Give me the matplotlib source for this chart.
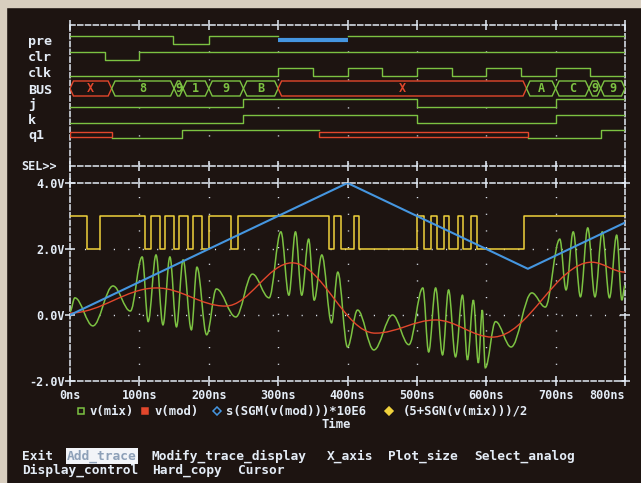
import matplotlib
matplotlib.use('Agg')
import matplotlib.pyplot as plt
from matplotlib.path import Path
from matplotlib.patches import PathPatch, Polygon, Rectangle
from matplotlib.lines import Line2D

plt.rcParams['lines.scale_dashes'] = False
plt.rcParams['font.family'] = ['DejaVu Sans Mono', 'DejaVu Sans']
plt.rcParams['font.weight'] = 'bold'

# ---- digital traces: edge times (ns) and state per interval ----
row_names = ['pre', 'clr', 'clk', 'BUS', 'j', 'k', 'q1']

pre_times = [0, 148, 200, 300, 400, 800]
pre_states = ['1', '0', '1', 'Z', '1']
clr_times = [0, 50, 100, 800]
clr_states = ['1', '0', '1']
clk_times = [0, 300, 350, 400, 450, 500, 550, 600, 650, 700, 750, 800]
clk_states = ['0', '1', '0', '1', '0', '1', '0', '1', '0', '1', '0']
bus_times = [0, 60, 150, 163, 200, 250, 300, 658, 700, 748, 765, 800]
bus_values = ['X', '8', '9', '1', '9', 'B', 'X', 'A', 'C', '9', '9']
j_times = [0, 250, 500, 700, 800]
j_states = ['0', '1', '0', '1']
k_times = [0, 250, 500, 700, 800]
k_states = ['0', '1', '0', '1']
q1_times = [0, 60, 162, 359, 660, 765, 800]
q1_states = ['X', '0', '1', 'X', '0', '1']

# ---- analog traces ----
# v(mix): successive peaks / troughs
mix_t = [0, 7, 33, 62, 87, 104, 112.7, 124, 134, 144, 153.5, 163, 175, 183, 197,
         211, 239, 263, 287, 304, 315.5, 325, 334, 344, 352, 363, 377, 386, 400,
         414.5, 438, 465, 488.5, 508.6, 517, 527, 537, 545.7, 555.7, 565.7, 572.9,
         581.4, 588.6, 594.3, 598.6, 613.4, 635.8, 665.7, 685.1, 706, 715, 725.4,
         735.8, 746.3, 756.7, 767.2, 777.6, 788, 795.5, 800]
mix_v = [0.1, 0.52, -0.33, 0.88, 0.12, 1.76, -0.2, 1.82, -0.3, 1.76, -0.36, 1.67, -0.45, 1.45, -0.6,
         0.79, -0.06, 1.24, 0.52, 2.52, 0.6, 2.52, 0.6, 2.3, 0.45, 1.82, -0.24, 1.3, -0.97,
         0.15, -1.06, 0.0, -0.9, 0.82, -1.12, 0.82, -1.21, 0.76, -1.27, 0.6, -1.36,
         0.45, -1.45, 0.15, -1.6, -0.2, -0.97, 0.67, 0.24, 2.3, 0.76, 2.52,
         0.55, 2.64, 0.55, 2.52, 0.52, 2.42, 0.45, 0.9]
# v(mod): slow modulating wave, peaks / troughs
mod_t = [0, 125, 224, 320, 440, 527, 609, 752, 800]
mod_v = [0.06, 0.82, 0.27, 1.58, -0.55, -0.15, -0.67, 1.6, 1.3]
# s(SGM(v(mod)))*10E6: triangle
sgm_t = [0, 400, 660, 800]
sgm_v = [0.0, 4.0, 1.4, 2.8]
# (5+SGN(v(mix)))/2: intervals where the trace sits at 2.0V (else 3.0V)
sgn_low = [(25, 43), (108.5, 117), (130, 137), (150, 157), (170, 178), (190, 201),
           (232, 242), (373, 380), (391, 410), (417, 500), (510, 520), (528.6, 538.6),
           (547, 559), (567, 578), (586.6, 655)]

xticks = [0, 100, 200, 300, 400, 500, 600, 700, 800]
xlabels = ['0ns', '100ns', '200ns', '300ns', '400ns', '500ns', '600ns', '700ns', '800ns']
yticks = [-2, 0, 2, 4]
ylabels = ['-2.0V', '0.0V', '2.0V', '4.0V']

BG = '#1d1411'
WHITE = '#e4ecf6'
GREEN = '#7cc242'
RED = '#e2472c'
BLUE = '#4596e0'
YELLOW = '#f0d23c'
BEIGE = '#d8cebf'
DASH = (0, (3.6, 2.0))

W, H = 641, 483
fig = plt.figure(figsize=(W / 100, H / 100), dpi=100, facecolor=BG)


def rect(l, t, r, b):
    return [l / W, 1 - b / H, (r - l) / W, (b - t) / H]


# photo border
fig.add_artist(Rectangle((0, 1 - 7 / H), 1, 7 / H, transform=fig.transFigure, color=BEIGE, zorder=0))
fig.add_artist(Rectangle((0, 0), 6 / W, 1, transform=fig.transFigure, color=BEIGE, zorder=0))

X0, X1 = 70, 625
ax_f = fig.add_axes(rect(X0, 25, X1, 381))
ax_d = fig.add_axes(rect(X0, 25, X1, 166))
ax_a = fig.add_axes(rect(X0, 183, X1, 381))

for ax in (ax_f, ax_d, ax_a):
    ax.set_facecolor('none')
    ax.set_xlim(0, 800)
    for s in ax.spines.values():
        s.set_color(WHITE)
        s.set_linewidth(1.1)
        s.set_linestyle(DASH)

ax_f.set_xticks([])
ax_f.set_yticks([])
ax_f.spines['top'].set_visible(False)
ax_f.spines['bottom'].set_visible(False)

for ax in (ax_d, ax_a):
    ax.spines['left'].set_visible(False)
    ax.spines['right'].set_visible(False)
    ax.set_xticks(xticks)
    ax.tick_params(axis='x', top=True, bottom=True, direction='inout', length=7,
                   width=1.1, color=WHITE, labelcolor=WHITE, labelsize=8.5, pad=2.5)

# ---- digital section ----
ax_d.set_ylim(166, 25)
ax_d.set_yticks([])
ax_d.tick_params(axis='x', labelbottom=False)
for t in xticks[1:-1]:
    ax_d.axvline(t, color=WHITE, lw=1.0, linestyle=(18.7, (0.8, 19.36)), zorder=0.5)

row_y = [40, 56, 72, 88.5, 103, 119, 134]


def draw_bits(ax, yc, times, states):
    hi, lo = yc - 4, yc + 4
    xs, ys = [], []
    for i, s in enumerate(states):
        t0, t1 = times[i], times[i + 1]
        if s in '01':
            y = hi if s == '1' else lo
            xs += [t0, t1]
            ys += [y, y]
            continue
        if xs:
            ax.plot(xs, ys, color=GREEN, lw=1.0)
        xs, ys = [], []
        if s == 'Z':
            ax.plot([t0, t1], [yc, yc], color=BLUE, lw=3.0, solid_capstyle='butt')
        else:
            ax.add_patch(Rectangle((t0, yc - 2.5), t1 - t0, 5, fill=False, ec=RED, lw=1.0))
    if xs:
        ax.plot(xs, ys, color=GREEN, lw=1.0)


def draw_bus(ax, yc, times, values, h=7.5, d=5):
    for i, v in enumerate(values):
        t0, t1 = times[i], times[i + 1]
        c = RED if v == 'X' else GREEN
        dd = min(d, (t1 - t0) / 2)
        pts = [(t0, yc), (t0 + dd, yc - h), (t1 - dd, yc - h), (t1, yc),
               (t1 - dd, yc + h), (t0 + dd, yc + h)]
        ax.add_patch(Polygon(pts, closed=True, fill=False, ec=c, lw=1.0))
        ax.text((t0 + t1) / 2, yc + 0.5, v, color=c, ha='center', va='center', fontsize=8.5)


draw_bits(ax_d, row_y[0], pre_times, pre_states)
draw_bits(ax_d, row_y[1], clr_times, clr_states)
draw_bits(ax_d, row_y[2], clk_times, clk_states)
draw_bus(ax_d, row_y[3], bus_times, bus_values)
draw_bits(ax_d, row_y[4], j_times, j_states)
draw_bits(ax_d, row_y[5], k_times, k_states)
draw_bits(ax_d, row_y[6], q1_times, q1_states)

for name, y in zip(row_names, row_y):
    ax_d.text(-0.0757, y + 1.5, name, transform=ax_d.get_yaxis_transform(),
              color=WHITE, ha='left', va='center', fontsize=9.6)
ax_d.text(-0.023, 166, 'SEL>>', transform=ax_d.get_yaxis_transform(), color=WHITE,
          ha='right', va='center', fontsize=8.5)

# ---- analog section ----
ax_a.set_ylim(-2, 4)
ax_a.set_yticks(yticks)
ax_a.set_yticklabels(ylabels)
ax_a.set_xticklabels(xlabels)
ax_a.get_xticklabels()[-1].set_horizontalalignment('right')
ax_a.tick_params(axis='y', left=True, right=True, direction='inout', length=7,
                 width=1.1, color=WHITE, labelcolor=WHITE, labelsize=8.5, pad=0.5)
for t in xticks[1:-1]:
    ax_a.axvline(t, color=WHITE, lw=1.0, linestyle=(0, (0.8, 11.2)), zorder=0.5)
for v in (0, 2):
    ax_a.axhline(v, color=WHITE, lw=1.0, linestyle=(0, (0.8, 9.6)), zorder=0.5)


def smooth_path(ts, vs, k=0.36):
    verts = [(ts[0], vs[0])]
    codes = [Path.MOVETO]
    for i in range(len(ts) - 1):
        dt = ts[i + 1] - ts[i]
        verts += [(ts[i] + k * dt, vs[i]), (ts[i + 1] - k * dt, vs[i + 1]), (ts[i + 1], vs[i + 1])]
        codes += [Path.CURVE4] * 3
    return Path(verts, codes)


# yellow step trace
st, sv = [0], [3]
for a, b in sgn_low:
    st += [a, a, b, b]
    sv += [3, 2, 2, 3]
st.append(800)
sv.append(3)
ax_a.plot(st, sv, color=YELLOW, lw=1.1, zorder=2)
ax_a.add_patch(PathPatch(smooth_path(mix_t, mix_v), fill=False, ec=GREEN, lw=1.1, zorder=3))
ax_a.add_patch(PathPatch(smooth_path(mod_t, mod_v), fill=False, ec=RED, lw=1.0, zorder=4))
ax_a.plot(sgm_t, sgm_v, color=BLUE, lw=1.5, zorder=5)

# ---- legend / labels / menu ----
def fx(x):
    return x / W


def fy(y):
    return 1 - y / H


LY = 411
for x, m, filled, c in [(81, 's', False, GREEN), (145, 's', True, RED),
                        (217, 'D', False, BLUE), (389, 'D', True, YELLOW)]:
    fig.add_artist(Line2D([fx(x)], [fy(LY)], transform=fig.transFigure, marker=m, ms=4.2,
                          mfc=c if filled else 'none', mec=c, mew=1.1, lw=0))
for x, s in [(90, 'v(mix)'), (155, 'v(mod)'), (226, 's(SGM(v(mod)))*10E6'),
             (403, '(5+SGN(v(mix)))/2')]:
    fig.text(fx(x), fy(LY), s, color=WHITE, ha='left', va='center', fontsize=8.8)

fig.text(fx(336), fy(425), 'Time', color=WHITE, ha='center', va='center', fontsize=8.8)

menu1 = [(22, 'Exit'), (67, 'Add_trace'), (152, 'Modify_trace_display'), (327, 'X_axis'),
         (388, 'Plot_size'), (474, 'Select_analog')]
menu2 = [(22, 'Display_control'), (152, 'Hard_copy'), (238, 'Cursor')]
for x, s in menu1:
    if s == 'Add_trace':
        fig.text(fx(x), fy(456), s, color='#8da0b8', ha='left', va='center', fontsize=9.3,
                 bbox=dict(boxstyle='square,pad=0.1', fc='#f2f4f8', ec='none'))
    else:
        fig.text(fx(x), fy(456), s, color=WHITE, ha='left', va='center', fontsize=9.3)
for x, s in menu2:
    fig.text(fx(x), fy(470), s, color=WHITE, ha='left', va='center', fontsize=9.3)

fig.savefig('out.png', dpi=100, facecolor=BG)
